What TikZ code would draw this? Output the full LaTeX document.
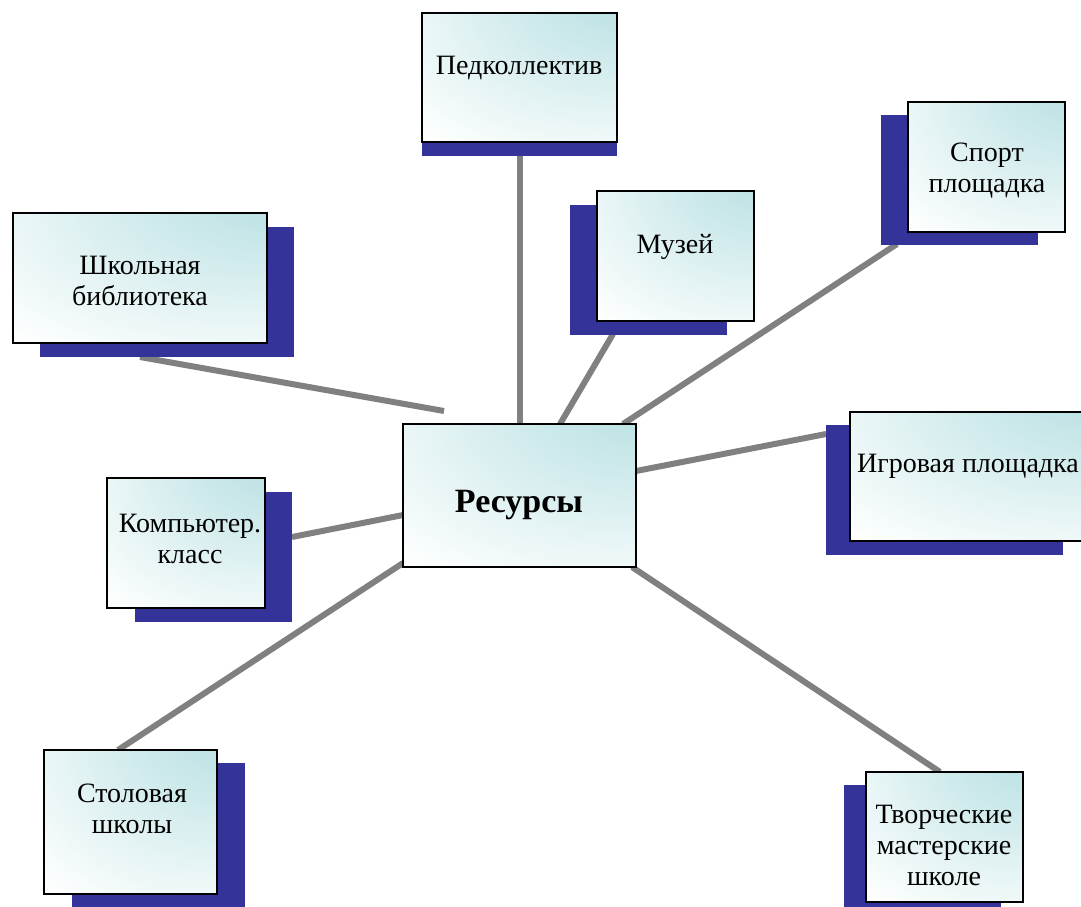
\documentclass[tikz,border=0pt]{standalone}
\usepackage{fontspec}
\setmainfont{Liberation Serif}
\definecolor{tealc}{RGB}{184,224,226}
\definecolor{shadowc}{RGB}{51,51,153}
\definecolor{linec}{RGB}{128,128,128}
\pgfdeclareradialshading{boxshade}{\pgfpoint{35bp}{45bp}}{color(0bp)=(tealc); color(10bp)=(tealc); color(58bp)=(white); color(100bp)=(white)}
\tikzset{
  conn/.style={draw=linec, line width=6pt},
  shad/.style={fill=shadowc, draw=none, inner sep=0pt, outer sep=0pt},
  box/.style={draw=black, line width=2.5pt, shading=boxshade, inner sep=0pt, outer sep=0pt},
  lbl/.style={font=\fontsize{28}{31}\selectfont, align=center, anchor=base, inner sep=0pt},
}
\begin{document}
\begin{tikzpicture}[x=1pt,y=-1pt]
\useasboundingbox (0,0) rectangle (1081,906);
% connector end coordinates
\coordinate (libA) at (140,357);
\coordinate (libB) at (444,411);
\coordinate (muzA) at (613,334);
\coordinate (muzB) at (560,424);
\coordinate (spA) at (897,244);
\coordinate (spB) at (623,424);
\coordinate (igA) at (826,434);
\coordinate (igB) at (636,471);
\coordinate (coA) at (292,537);
\coordinate (coB) at (403,515);
\coordinate (stA) at (118,750);
\coordinate (stB) at (403,563);
\coordinate (tvA) at (940,772);
\coordinate (tvB) at (632,567);
\coordinate (pedA) at (520,156);
\coordinate (pedB) at (520,424);
% connectors
\draw[conn] (pedA) -- (pedB);
\draw[conn] (libA) -- (libB);
\draw[conn] (muzA) -- (muzB);
\draw[conn] (spA) -- (spB);
\draw[conn] (igA) -- (igB);
\draw[conn] (coA) -- (coB);
\draw[conn] (stA) -- (stB);
\draw[conn] (tvA) -- (tvB);
% shadows
\node[shad, minimum width=195pt, minimum height=129pt] (pedsh) at (519.5,91.5) {};
\node[shad, minimum width=254pt, minimum height=130pt] (libsh) at (167,292) {};
\node[shad, minimum width=157pt, minimum height=130pt] (muzsh) at (648.5,270) {};
\node[shad, minimum width=157pt, minimum height=130pt] (spsh) at (959.5,180) {};
\node[shad, minimum width=237pt, minimum height=130pt] (igsh) at (944.5,490) {};
\node[shad, minimum width=157pt, minimum height=130pt] (cosh) at (213.5,557) {};
\node[shad, minimum width=173pt, minimum height=144pt] (stsh) at (158.5,835) {};
\node[shad, minimum width=157pt, minimum height=130pt] (tvsh) at (922.5,850) {};
% boxes
\node[box, minimum width=195pt, minimum height=129pt] (ped) at (519.5,77.5) {};
\node[box, minimum width=254pt, minimum height=130pt] (lib) at (140,278) {};
\node[box, minimum width=157pt, minimum height=130pt] (muz) at (675.5,256) {};
\node[box, minimum width=157pt, minimum height=130pt] (sp) at (986.5,167) {};
\node[box, minimum width=237pt, minimum height=129pt] (ig) at (968.5,476.5) {};
\node[box, minimum width=158pt, minimum height=130pt] (co) at (186,543) {};
\node[box, minimum width=173pt, minimum height=144pt] (st) at (130.5,822) {};
\node[box, minimum width=157pt, minimum height=130pt] (tv) at (944.5,837) {};
\node[box, minimum width=233pt, minimum height=143pt] (res) at (519.5,495.5) {};
% labels (anchor = baseline of last line)
\node[lbl] (pedt) at (519,74) {Педколлектив};
\node[lbl] (libt) at (140,305) {Школьная\\библиотека};
\node[lbl] (muzt) at (675,253) {Музей};
\node[lbl] (spt) at (987,192) {Спорт\\площадка};
\node[lbl] (igt) at (968,472) {Игровая площадка};
\node[lbl] (cot) at (190,563) {Компьютер.\\класс};
\node[lbl] (stt) at (132,833) {Столовая\\школы};
\node[lbl] (tvt) at (944,885) {Творческие\\мастерские\\школе};
\node[lbl, font=\fontsize{34}{40}\selectfont\bfseries] (rest) at (519,512) {Ресурсы};
\end{tikzpicture}
\end{document}
